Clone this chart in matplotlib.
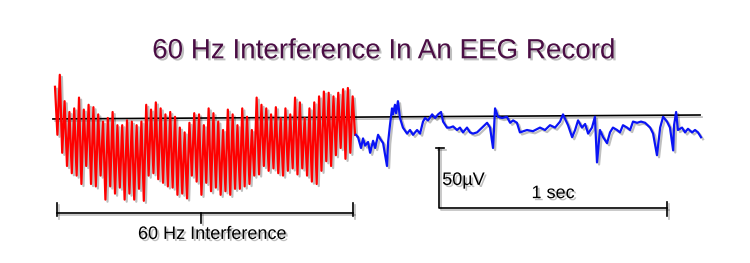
import matplotlib
matplotlib.use("Agg")
import matplotlib.pyplot as plt
import matplotlib.patheffects as pe
import numpy as np

plt.rcParams["font.family"] = ["Liberation Sans", "DejaVu Sans"]

# 60 Hz contaminated part: alternating peak / trough values (uV)
red_peaks_uv = [26, 36, 14, 5, 8, 17, 7, 11, 9, 3, -3, 0, 5, -6,
                -6, -2, -3, -6, -3, 11, 7, 13, 8, 3, 5, 1, -8, -12, -4, 4,
                3, -6, 8, 4, -3, -10, 7, 3, -6, 8, 1, -10, 17, 11, 8, 3,
                9, 0, 8, 3, 17, 13, 0, 8, 13, 18, 22, 21, 18, 21, 24, 25, 18]
red_troughs_uv = [-14, -29, -40, -46, -48, -55, -40, -55, -57, -48, -68, -57, -63, -58,
                  -68, -63, -68, -59, -69, -48, -46, -51, -54, -57, -58, -64, -63, -67, -48, -53,
                  -64, -54, -61, -58, -64, -61, -64, -59, -59, -57, -55, -48, -47, -40, -44, -42,
                  -46, -48, -44, -42, -47, -42, -48, -53, -55, -44, -36, -40, -31, -25, -34, -29, -14]
red_duration = 1.316  # s

# clean EEG part
blue_t = [1.320, 1.329, 1.342, 1.351, 1.360, 1.373, 1.382, 1.395, 1.404, 1.417,
          1.425, 1.439, 1.447, 1.456, 1.461, 1.469, 1.478, 1.482, 1.491, 1.496,
          1.504, 1.513, 1.526, 1.544, 1.557, 1.570, 1.588, 1.601, 1.614, 1.623,
          1.636, 1.654, 1.667, 1.680, 1.693, 1.702, 1.719, 1.732, 1.746, 1.763,
          1.776, 1.789, 1.807, 1.820, 1.833, 1.851, 1.873, 1.895, 1.908, 1.921,
          1.930, 1.943, 1.961, 1.982, 1.996, 2.009, 2.026, 2.039, 2.070, 2.096,
          2.127, 2.149, 2.171, 2.193, 2.215, 2.228, 2.250, 2.268, 2.281, 2.294,
          2.311, 2.325, 2.338, 2.355, 2.368, 2.377, 2.390, 2.404, 2.421, 2.434,
          2.447, 2.465, 2.478, 2.491, 2.509, 2.522, 2.535, 2.553, 2.570, 2.588,
          2.610, 2.623, 2.640, 2.654, 2.667, 2.684, 2.697, 2.711, 2.715, 2.724,
          2.732, 2.750, 2.763, 2.776, 2.794, 2.807, 2.820, 2.833]
blue_uv = [-14, -16, -25, -17, -23, -20, -29, -19, -25, -14,
           -17, -21, -30, -40, -20, -6, 8, 3, 11, 4,
           14, 0, -8, -13, -10, -14, -10, -13, -3, 0,
           -2, 3, 0, 3, 5, -3, -8, -8, -7, -10,
           -8, -12, -8, -12, -13, -12, -8, -4, -8, -25,
           8, 1, 0, 1, -4, -2, -4, -12, -10, -11,
           -8, -10, -6, -8, -3, 3, -6, -16, -10, -2,
           -8, -5, -13, -8, 1, -37, -10, -16, -21, -12,
           -8, -10, -12, -6, -8, -10, -3, -4, -3, -4,
           -8, -13, -31, -8, 1, -3, -8, -27, -6, 5,
           -10, -8, -12, -9, -12, -10, -12, -16]

baseline_t = [-0.009, 2.829]
baseline_uv = [-0.8, 2.5]

scale_t0 = 1.684
scale_uv0 = -75
scale_time = 1.0   # s
scale_amp = 50     # uV

title = "60 Hz Interference In An EEG Record"

fig = plt.figure(figsize=(7.5, 2.63), dpi=100)
ax = fig.add_axes([0, 0, 1, 1])
ax.set_xlim(-0.2412, 3.048)
ax.set_ylim(-120.8, 98.3)
ax.axis("off")

shadow = [pe.SimpleLineShadow(offset=(1.5, -1.5), shadow_color="k", alpha=0.25), pe.Normal()]
tshadow = [pe.withSimplePatchShadow(offset=(1.5, -1.5), shadow_rgbFace="gray", alpha=0.5)]

# red trace
red_vals = np.ravel(np.column_stack([red_peaks_uv, red_troughs_uv]))
red_t = np.linspace(0, red_duration, len(red_vals))
ax.plot(red_t, red_vals, color="#ff0000", lw=1.6, path_effects=shadow, zorder=3)

# blue trace
ax.plot(blue_t, blue_uv, color="#0a14f5", lw=1.6, path_effects=shadow, zorder=3)

# baseline
ax.plot(baseline_t, baseline_uv, color="black", lw=1.2, path_effects=shadow, zorder=2)

# scale bar
lk = dict(color="black", lw=1.2, path_effects=shadow)
ax.plot([scale_t0, scale_t0, scale_t0 + scale_time],
        [scale_uv0 + scale_amp, scale_uv0, scale_uv0], **lk)
ax.plot([scale_t0 - 0.014, scale_t0 + 0.022], [scale_uv0 + scale_amp] * 2, **lk)
ax.plot([scale_t0 + scale_time] * 2, [scale_uv0 + 5, scale_uv0 - 7], **lk)
ax.text(scale_t0 + 0.014, scale_uv0 + 23, "50\u00b5V", fontsize=13, ha="left", va="center",
        path_effects=tshadow)
ax.text(scale_t0 + 0.5, scale_uv0 + 12, "1 sec", fontsize=13, ha="center", va="center",
        path_effects=tshadow)

# bracket under the 60 Hz segment
by = -79
ax.plot([0.009, red_duration - 0.009], [by, by], **lk)
for bt in [0.009, red_duration - 0.009]:
    ax.plot([bt, bt], [by + 8, by - 3], **lk)
ax.plot([0.64, 0.64], [by, by - 8.5], **lk)
ax.text(0.689, by - 18, "60 Hz Interference", fontsize=13, ha="center", va="center",
        path_effects=tshadow)

fig.text(0.511, 0.805, title, fontsize=20, color="#4a0d44", ha="center", va="center",
         path_effects=tshadow)

fig.savefig("out.png", dpi=100, facecolor="white")
